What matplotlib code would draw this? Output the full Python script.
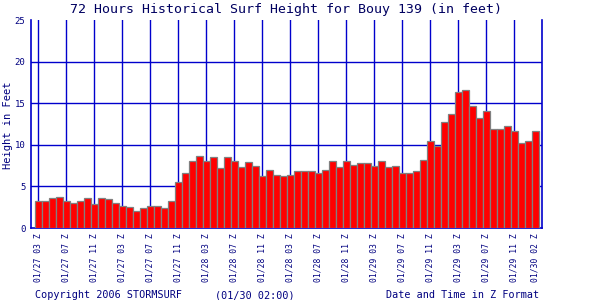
import matplotlib
matplotlib.use("Agg")
import matplotlib.pyplot as plt

# surf height per hour, 01/27 03Z .. 01/30 02Z (72 values, feet)
heights = [
    3.3, 3.2, 3.6, 3.7, 3.2, 3.0, 3.3, 3.6, 2.9, 3.6,
    3.5, 3.0, 2.6, 2.5, 2.1, 2.4, 2.7, 2.6, 2.4, 3.2,
    5.5, 6.6, 8.1, 8.6, 8.1, 8.5, 7.2, 8.5, 8.0, 7.3,
    7.9, 7.5, 6.3, 7.0, 6.4, 6.3, 6.4, 6.9, 6.8, 6.9,
    6.6, 7.0, 8.0, 7.3, 8.1, 7.6, 7.8, 7.8, 7.4, 8.0,
    7.3, 7.4, 6.6, 6.6, 6.9, 8.2, 10.4, 9.9, 12.8, 13.7,
    16.3, 16.6, 14.7, 13.2, 14.1, 11.9, 11.9, 12.2, 11.7, 10.2,
    10.4, 11.7,
]

tick_labels = [
    "01/27 03 Z", "01/27 07 Z", "01/27 11 Z", "01/27 03 Z", "01/27 07 Z",
    "01/27 11 Z", "01/28 03 Z", "01/28 07 Z", "01/28 11 Z", "01/28 03 Z",
    "01/28 07 Z", "01/28 11 Z", "01/29 03 Z", "01/29 07 Z", "01/29 11 Z",
    "01/29 03 Z", "01/29 07 Z", "01/29 11 Z", "01/30 02 Z",
]
y_ticks = [0, 5, 10, 15, 20, 25]

NAVY = "#000080"
BLUE = "#0000CC"
plt.rcParams["font.family"] = "DejaVu Sans Mono"

fig = plt.figure(figsize=(6, 3), dpi=100)
ax = fig.add_axes([31 / 600, 1 - 228 / 300, 511 / 600, 208 / 300])

x = list(range(len(heights)))
tick_pos = list(range(0, len(heights) - 1, 4)) + [len(heights) - 1]

ax.set_axisbelow(True)
ax.bar(x, heights, width=1.0, color="#FF0000", edgecolor="#808080",
       linewidth=0.9, zorder=3)

ax.set_xlim(-1.05, 71.95)
ax.set_ylim(0, 25)
ax.set_xticks(tick_pos)
ax.set_xticklabels(tick_labels, rotation=90, fontsize=5.8, color=NAVY)
ax.set_yticks(y_ticks)
ax.set_yticklabels([str(v) for v in y_ticks], fontsize=6.5, color=NAVY)
ax.tick_params(length=0, pad=4)

for v in y_ticks[1:-1]:
    ax.axhline(v, color=BLUE, lw=1.0, zorder=1)
for p in tick_pos[:-1]:
    ax.axvline(p, color=BLUE, lw=1.0, zorder=1)

for side in ("left", "bottom", "right"):
    ax.spines[side].set_color(BLUE)
    ax.spines[side].set_linewidth(1.2)
ax.spines["top"].set_visible(False)

fig.text(8 / 600, 1 - 125 / 300, "Height in Feet", rotation=90,
         ha="center", va="center", fontsize=7.5, color=NAVY)
fig.text(286 / 600, 1 - 9 / 300, "72 Hours Historical Surf Height for Bouy 139 (in feet)",
         ha="center", va="center", fontsize=9.5, color="#000060")

fig.text(35 / 600, 1 - 295 / 300, "Copyright 2006 STORMSURF",
         ha="left", va="center", fontsize=7.3, color=NAVY)
fig.text(255 / 600, 1 - 295 / 300, "(01/30 02:00)",
         ha="center", va="center", fontsize=7.3, color=NAVY)
fig.text(539 / 600, 1 - 295 / 300, "Date and Time in Z Format",
         ha="right", va="center", fontsize=7.3, color=NAVY)

fig.savefig("out.png", dpi=100, facecolor="white")
